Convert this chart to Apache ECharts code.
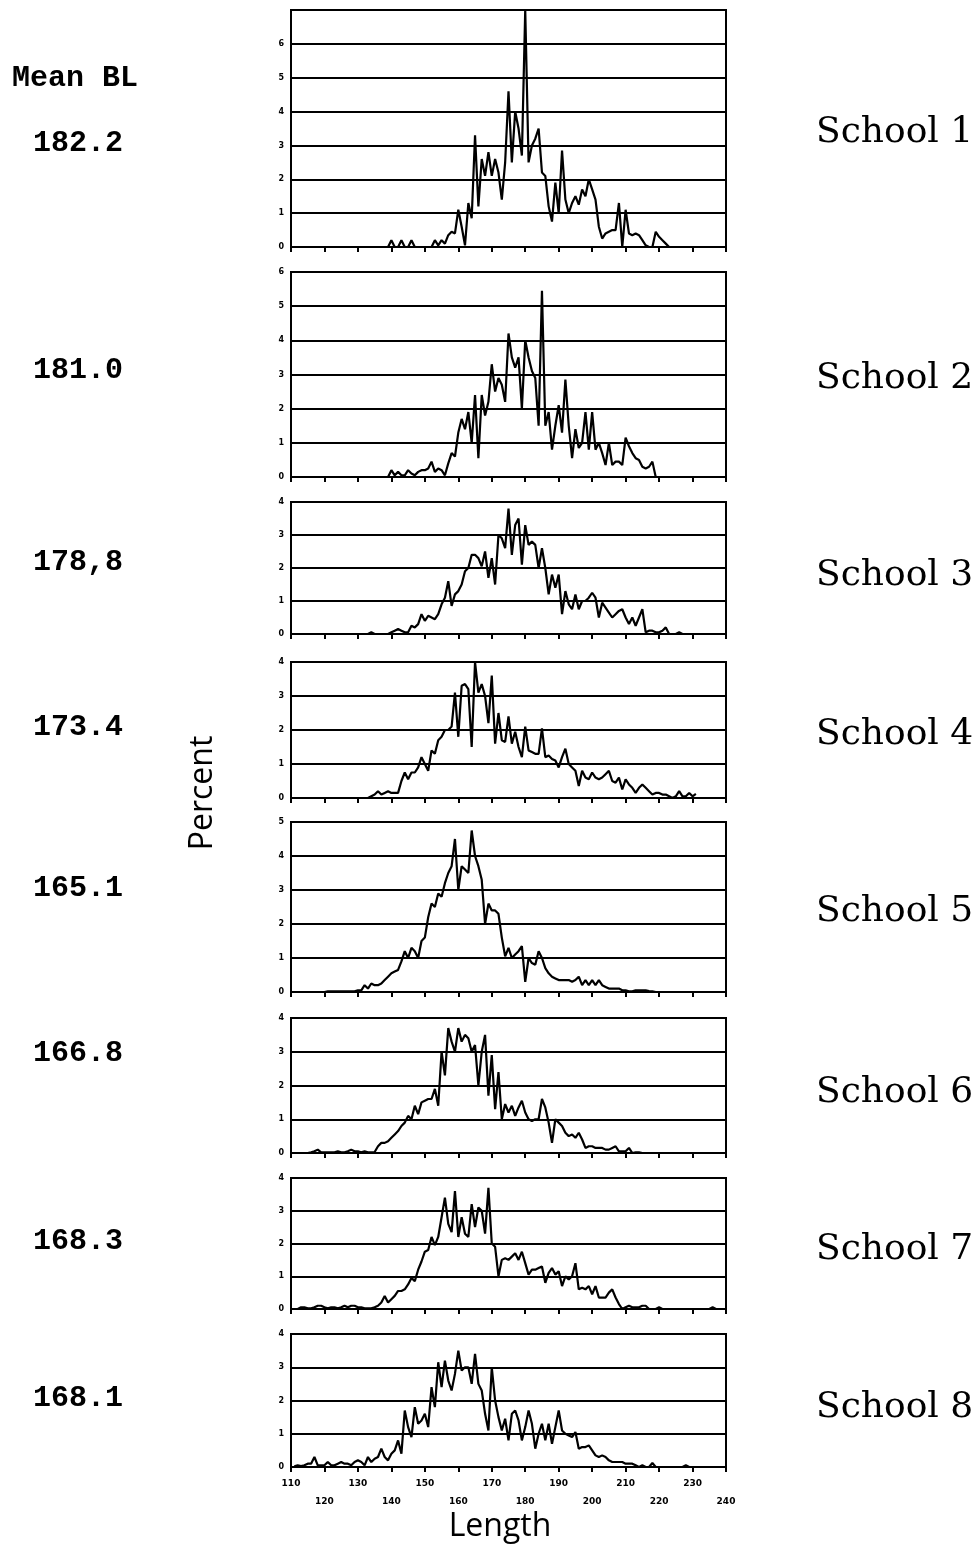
<!DOCTYPE html>
<html>
<head>
<meta charset="utf-8">
<title>Length distribution by school</title>
<script src="https://cdn.jsdelivr.net/npm/echarts@6/dist/echarts.min.js"></script>
<style>
  html, body { margin: 0; padding: 0; background: #fff; }
  #chart { width: 978px; height: 1547px; }
</style>
</head>
<body>
<div id="chart"></div>
<script>
// percent of fish at each length (1 unit steps), one array per school
const school1 = [0,0.2,0,0,0.2,0,0,0.2,0,0,
  0,0,0,0,0.2,0.05,0.2,0.1,0.35,0.45,
  0.4,1.1,0.6,0.05,1.3,0.85,3.3,1.2,2.6,2.1,
  2.8,2.1,2.6,2.2,1.4,2.5,4.6,2.5,4.0,3.5,
  2.7,7.0,2.5,3.0,3.2,3.5,2.2,2.1,1.2,0.75,
  1.9,1.0,2.85,1.4,1.0,1.3,1.5,1.25,1.7,1.5,
  2.0,1.7,1.4,0.6,0.25,0.4,0.45,0.5,0.5,1.3,
  0,1.1,0.4,0.35,0.4,0.35,0.2,0.05,0,0,
  0.45,0.3,0.2,0.1,0];
const school2 = [0,0.2,0.05,0.15,0.05,0.05,0.2,0.1,0.05,0.15,
  0.2,0.2,0.25,0.45,0.15,0.25,0.2,0.05,0.4,0.7,
  0.6,1.3,1.7,1.4,1.9,1.0,2.4,0.55,2.4,1.8,
  2.2,3.3,2.5,2.9,2.7,2.2,4.2,3.5,3.2,3.5,
  2.0,4.0,3.5,3.1,2.9,1.5,5.45,1.5,1.9,0.8,
  1.5,2.1,1.3,2.85,1.5,0.55,1.4,0.85,1.0,1.9,
  0.8,1.9,0.8,1.0,0.7,0.35,1.0,0.35,0.45,0.45,
  0.35,1.15,0.9,0.7,0.55,0.5,0.3,0.25,0.3,0.45,
  0];
const school3 = [0,0.05,0,0,0,0,0,0.05,0.1,0.15,
  0.1,0.05,0.05,0.25,0.2,0.3,0.6,0.4,0.55,0.5,
  0.45,0.6,0.9,1.1,1.6,0.85,1.2,1.3,1.5,1.9,
  2.0,2.4,2.4,2.3,2.05,2.5,1.7,2.3,1.5,3.0,
  2.9,2.6,3.8,2.4,3.3,3.5,2.1,3.3,2.7,2.8,
  2.7,2.0,2.6,2.0,1.2,1.8,1.4,1.8,0.6,1.3,
  0.9,0.75,1.2,0.75,1.0,1.0,1.1,1.25,1.1,0.5,
  0.95,0.8,0.65,0.5,0.6,0.7,0.75,0.5,0.3,0.5,
  0.25,0.5,0.75,0.05,0.1,0.1,0.05,0.05,0.1,0.2,
  0,0,0,0.05,0];
const school4 = [0,0,0.05,0.1,0.2,0.1,0.15,0.2,0.15,0.15,
  0.15,0.5,0.75,0.55,0.75,0.75,0.9,1.2,1.0,0.8,
  1.4,1.3,1.7,1.8,2.0,2.0,2.1,3.1,1.8,3.3,
  3.35,3.2,1.5,4.0,3.1,3.35,3.0,2.2,3.6,1.6,
  2.5,1.7,1.65,2.4,1.6,1.95,1.5,1.2,2.1,1.4,
  1.35,1.3,1.3,2.05,1.2,1.25,1.15,1.1,0.9,1.2,
  1.45,1.0,0.9,0.8,0.35,0.8,0.6,0.55,0.75,0.6,
  0.55,0.6,0.7,0.8,0.5,0.45,0.6,0.25,0.55,0.4,
  0.3,0.15,0.3,0.4,0.3,0.2,0.1,0.15,0.15,0.1,
  0.1,0.05,0,0.05,0.2,0.05,0.05,0.15,0.05,0.12];
const school5 = [0,0.02,0.02,0.02,0.02,0.02,0.02,0.02,0.02,0.02,
  0.05,0.05,0.2,0.1,0.25,0.2,0.2,0.25,0.35,0.45,
  0.55,0.6,0.65,0.9,1.2,1.0,1.3,1.2,1.0,1.5,
  1.6,2.2,2.6,2.5,2.9,2.8,3.2,3.5,3.7,4.5,
  3.0,3.7,3.6,3.5,4.75,4.0,3.7,3.3,2.0,2.6,
  2.4,2.4,2.3,1.6,1.05,1.3,1.0,1.1,1.2,1.35,
  0.3,1.0,0.85,0.8,1.2,1.0,0.7,0.55,0.45,0.4,
  0.35,0.35,0.35,0.35,0.3,0.35,0.45,0.2,0.35,0.2,
  0.35,0.2,0.35,0.2,0.15,0.1,0.1,0.1,0.1,0.05,
  0.05,0.02,0.02,0.05,0.05,0.05,0.05,0.03,0.02,0];
const school6 = [0,0,0,0,0.02,0.05,0.1,0.02,0.02,0.02,
  0.02,0.02,0.05,0.02,0.02,0.05,0.1,0.05,0.05,0.02,
  0.05,0.02,0.02,0.03,0.2,0.3,0.3,0.35,0.45,0.55,
  0.65,0.8,0.9,1.1,1.0,1.4,1.15,1.5,1.55,1.6,
  1.6,1.9,1.4,3.0,2.3,3.7,3.3,3.0,3.7,3.3,
  3.5,3.4,3.0,3.2,2.0,3.0,3.5,1.7,2.9,1.3,
  2.4,1.0,1.45,1.2,1.4,1.1,1.35,1.55,1.2,1.0,
  0.95,1.0,1.0,1.6,1.35,0.9,0.3,1.0,0.9,0.8,
  0.6,0.5,0.55,0.45,0.6,0.4,0.15,0.2,0.2,0.15,
  0.15,0.15,0.1,0.1,0.15,0.2,0.05,0.05,0.05,0.15,
  0,0.02,0.02,0];
const school7 = [0,0.05,0.05,0.02,0.02,0.05,0.1,0.1,0.05,0.02,
  0.05,0.05,0.02,0.05,0.1,0.05,0.1,0.1,0.05,0.05,
  0.02,0.02,0.02,0.05,0.1,0.2,0.4,0.2,0.3,0.4,
  0.55,0.55,0.6,0.75,0.95,0.85,1.2,1.45,1.75,1.8,
  2.2,1.95,2.2,2.8,3.4,2.6,2.35,3.6,2.2,2.8,
  2.3,2.2,3.2,2.5,3.1,3.0,2.3,3.7,2.0,1.9,
  1.0,1.5,1.55,1.5,1.6,1.7,1.5,1.75,1.4,1.05,
  1.2,1.2,1.25,1.3,0.8,1.1,1.25,1.05,1.15,0.7,
  1.0,0.9,1.0,1.4,0.6,0.65,0.6,0.7,0.45,0.7,
  0.35,0.35,0.35,0.5,0.6,0.35,0.15,0,0.05,0.1,
  0.05,0.05,0.05,0.1,0.1,0,0,0,0.05,0,
  0,0,0,0,0,0,0,0,0,0,
  0,0,0,0,0.05,0];
const school8 = [0.02,0.05,0.03,0.05,0.1,0.1,0.3,0.05,0.05,0.05,
  0.15,0.05,0.05,0.1,0.15,0.1,0.1,0.05,0.15,0.2,
  0.15,0.05,0.3,0.15,0.25,0.3,0.55,0.3,0.2,0.4,
  0.5,0.8,0.4,1.7,1.2,0.9,1.8,1.3,1.4,1.6,
  1.2,2.4,1.8,3.15,2.4,3.2,2.6,2.3,2.8,3.5,
  2.9,3.0,3.0,2.5,3.4,2.5,2.3,1.6,1.1,3.0,
  2.0,1.5,1.1,1.45,0.8,1.6,1.7,1.4,0.8,1.2,
  1.7,1.3,0.55,1.0,1.3,0.8,1.3,0.7,1.2,1.7,
  1.1,1.0,0.95,0.9,1.05,0.55,0.6,0.6,0.65,0.5,
  0.35,0.3,0.35,0.3,0.2,0.15,0.15,0.15,0.15,0.1,
  0.1,0.1,0.05,0,0.05,0,0,0.12,0,0,
  0,0,0,0,0,0,0,0.05,0];

const schoolData = [school1, school2, school3, school4, school5, school6, school7, school8];
const firstLength = [139, 139, 133, 132, 120, 112, 112, 111];
const percentMax = [7, 6, 4, 4, 5, 4, 4, 4];
const meanBL = ['182.2', '181.0', '178,8', '173.4', '165.1', '166.8', '168.3', '168.1'];
const schoolNames = ['School 1', 'School 2', 'School 3', 'School 4', 'School 5', 'School 6', 'School 7', 'School 8'];
const lengthMin = 110, lengthMax = 240, lengthStep = 10;

// panel placement (px)
const panelTop = [10, 272, 502, 662, 822, 1018, 1178, 1334];
const panelHeight = [237, 205, 132, 136, 170, 135, 131, 133];
const meanY = [143, 370, 562, 727, 888, 1053, 1241, 1398];
const schoolY = [133, 379, 576, 735, 912, 1093, 1250, 1408];

let grid = [], xAxis = [], yAxis = [], series = [], graphic = [];

schoolData.forEach((vals, i) => {
  grid.push({
    left: 291, width: 435, top: panelTop[i], height: panelHeight[i],
    show: true, borderColor: '#000', borderWidth: 2, backgroundColor: 'transparent'
  });
  xAxis.push({
    type: 'value', gridIndex: i, min: lengthMin, max: lengthMax, interval: lengthStep,
    axisLine: { lineStyle: { color: '#000', width: 2 } },
    axisTick: { show: true, length: 5, lineStyle: { color: '#000', width: 2 } },
    splitLine: { show: false },
    axisLabel: {
      show: i === 7, color: '#000', fontSize: 9, fontWeight: 'bold',
      fontFamily: 'DejaVu Sans', margin: 8, lineHeight: 18,
      formatter: (v) => ((v / 10) % 2 === 0) ? '\n' + v : String(v)
    }
  });
  yAxis.push({
    type: 'value', gridIndex: i, min: 0, max: percentMax[i], interval: 1,
    axisLine: { show: true, lineStyle: { color: '#000', width: 2 } },
    axisTick: { show: false },
    splitLine: { show: true, lineStyle: { color: '#000', width: 2 } },
    axisLabel: {
      color: '#000', fontSize: 8, fontWeight: 'bold', fontFamily: 'DejaVu Sans',
      margin: 7, showMaxLabel: i !== 0
    }
  });
  series.push({
    type: 'line', xAxisIndex: i, yAxisIndex: i,
    data: vals.map((v, k) => [firstLength[i] + k, v]),
    showSymbol: false, smooth: false,
    lineStyle: { color: '#000', width: 2.2 },
    z: 5
  });
  graphic.push({
    type: 'text', x: 33, y: meanY[i],
    style: { text: meanBL[i], font: 'bold 30px "Liberation Mono"', fill: '#000', align: 'left', verticalAlign: 'middle' }
  });
  graphic.push({
    type: 'text', x: 816, y: schoolY[i],
    style: { text: schoolNames[i], font: '36px "DejaVu Serif"', fill: '#000', align: 'left', verticalAlign: 'middle' }
  });
});

graphic.push({
  type: 'text', x: 12, y: 78,
  style: { text: 'Mean BL', font: 'bold 30px "Liberation Mono"', fill: '#000', align: 'left', verticalAlign: 'middle' }
});
graphic.push({
  type: 'text', x: 203, y: 793, rotation: Math.PI / 2,
  style: { text: 'Percent', font: '32px "Open Sans"', fill: '#000', align: 'center', verticalAlign: 'middle' }
});
graphic.push({
  type: 'text', x: 500, y: 1527,
  style: { text: 'Length', font: '32px "Open Sans"', fill: '#000', align: 'center', verticalAlign: 'middle' }
});

const chart = echarts.init(document.getElementById('chart'));
chart.setOption({
  animation: false,
  backgroundColor: '#fff',
  grid: grid,
  xAxis: xAxis,
  yAxis: yAxis,
  series: series,
  graphic: graphic
});
</script>
</body>
</html>
